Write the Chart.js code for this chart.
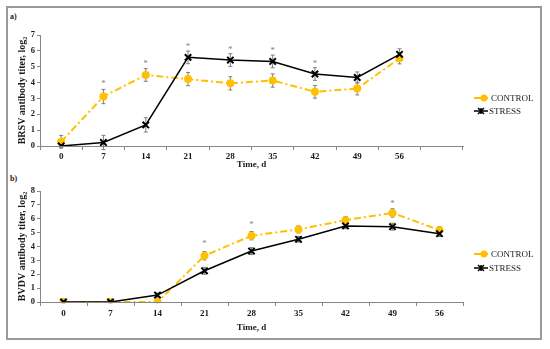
<!DOCTYPE html>
<html><head><meta charset="utf-8">
<script src="https://cdn.jsdelivr.net/npm/chart.js@4.4.0/dist/chart.umd.min.js"></script>
<style>
html,body{margin:0;padding:0;background:#fff;}
body{width:550px;height:349px;position:relative;overflow:hidden;font-family:"Liberation Serif",serif;}
#frame{position:absolute;left:6px;top:6px;width:532px;height:330px;border:2px solid #9a9a9a;}
.cv{position:absolute;left:0;}
.pl{position:absolute;font:bold 8px "Liberation Serif",serif;color:#222;}
</style></head>
<body>
<div id="frame"></div>
<div class="pl" style="left:10px;top:12px;">a)</div>
<div class="pl" style="left:10px;top:174px;">b)</div>
<div class="cv" style="top:0;width:550px;height:170px;"><canvas id="ca"></canvas></div>
<div class="cv" style="top:170px;width:550px;height:179px;"><canvas id="cb"></canvas></div>
<script>
// ---- data ----
const daysA = ['0','7','14','21','28','35','42','49','56',''];
const daysB = ['0','7','14','21','28','35','42','49','56'];
const seriesNames = ['CONTROL','STRESS'];

const brsvControl = [0.27, 3.12, 4.48, 4.22, 3.95, 4.13, 3.42, 3.62, 5.53];
const brsvStress  = [0.0, 0.22, 1.33, 5.59, 5.42, 5.33, 4.54, 4.32, 5.78];
const brsvControlErr = [0.4, 0.45, 0.4, 0.42, 0.42, 0.42, 0.4, 0.4, 0.35];
const brsvStressErr  = [0.1, 0.45, 0.45, 0.4, 0.4, 0.4, 0.4, 0.35, 0.35];
const brsvStar = [null, 4.05, 5.35, 6.37, 6.2, 6.12, 5.3, null, null];

const bvdvControl = [0, 0, 0, 3.33, 4.78, 5.23, 5.9, 6.42, 5.18];
const bvdvStress  = [0, 0, 0.5, 2.25, 3.67, 4.52, 5.48, 5.43, 4.92];
const bvdvControlErr = [0.05, 0.05, 0.05, 0.3, 0.3, 0.25, 0.25, 0.3, 0.25];
const bvdvStressErr  = [0.05, 0.05, 0.15, 0.25, 0.25, 0.2, 0.2, 0.25, 0.2];
const bvdvStar = [null, null, null, 4.34, 5.7, null, null, 7.2, null];

const GOLD = '#FFC000';
const GREY = '#868686';
const TXT = '#1a1a1a';

function errPlugin(ctrlErr, strErr, stars, legendY){
  return {
    id:'extras',
    beforeDatasetsDraw(chart){
      const ctx = chart.ctx, x = chart.scales.x, y = chart.scales.y;
      ctx.save();
      ctx.strokeStyle = '#7f7f7f'; ctx.lineWidth = 1;
      const errs = [ctrlErr, strErr];
      chart.data.datasets.forEach((ds, di) => {
        ds.data.forEach((v, i) => {
          const e = errs[di][i];
          const px = x.getPixelForValue(i);
          const t = y.getPixelForValue(v + e), b = y.getPixelForValue(v - e);
          ctx.beginPath();
          ctx.moveTo(px, t); ctx.lineTo(px, b);
          ctx.moveTo(px-2, t); ctx.lineTo(px+2, t);
          ctx.moveTo(px-2, b); ctx.lineTo(px+2, b);
          ctx.stroke();
        });
      });
      ctx.fillStyle = '#7f7f7f';
      ctx.font = '9px "Liberation Serif", serif';
      ctx.textAlign = 'center'; ctx.textBaseline = 'middle';
      stars.forEach((s, i) => {
        if (s === null) return;
        ctx.fillText('*', x.getPixelForValue(i), y.getPixelForValue(s) + 2);
      });
      ctx.restore();
    },
    afterDraw(chart){
      const ctx = chart.ctx;
      ctx.save();
      // CONTROL legend
      let ly = legendY[0];
      ctx.strokeStyle = GOLD; ctx.lineWidth = 2;
      ctx.beginPath(); ctx.moveTo(474, ly); ctx.lineTo(488, ly); ctx.stroke();
      ctx.fillStyle = GOLD;
      ctx.beginPath(); ctx.arc(484, ly, 3.5, 0, Math.PI*2); ctx.fill();
      ctx.fillStyle = TXT;
      ctx.font = '9px "Liberation Serif", serif';
      ctx.textAlign = 'left'; ctx.textBaseline = 'middle';
      ctx.fillText(seriesNames[0], 491, ly + 0.5);
      // STRESS legend
      ly = legendY[1];
      ctx.strokeStyle = '#000'; ctx.lineWidth = 1.5;
      ctx.beginPath(); ctx.moveTo(474, ly); ctx.lineTo(488, ly); ctx.stroke();
      ctx.lineWidth = 1.5;
      ctx.beginPath();
      ctx.moveTo(478, ly-3); ctx.lineTo(484, ly+3);
      ctx.moveTo(478, ly+3); ctx.lineTo(484, ly-3);
      ctx.moveTo(481, ly-3); ctx.lineTo(481, ly+3);
      ctx.stroke();
      ctx.fillStyle = TXT;
      ctx.fillText(seriesNames[1], 489, ly + 0.5);
      ctx.restore();
    }
  };
}

function makeChart(id, labels, ctrl, str, ymax, ytitle, pad, xh, tOff, plugin){
  return new Chart(document.getElementById(id), {
    type:'line',
    data:{
      labels: labels,
      datasets:[
        {label:seriesNames[0], data:ctrl, borderColor:GOLD, backgroundColor:GOLD, borderWidth:2,
         borderDash:[7,3,2,3], pointStyle:'circle', pointRadius:4, pointBackgroundColor:GOLD,
         pointBorderColor:GOLD, pointBorderWidth:0, tension:0, order:1},
        {label:seriesNames[1], data:str, borderColor:'#000', backgroundColor:'#000', borderWidth:1.5,
         pointStyle:'crossRot', pointRadius:4.5, pointBorderWidth:2, pointBorderColor:'#000', tension:0, order:0}
      ]
    },
    options:{
      responsive:true, maintainAspectRatio:false, animation:false,
      devicePixelRatio:1,
      layout:{padding:pad},
      plugins:{legend:{display:false}, tooltip:{enabled:false}},
      scales:{
        x:{
          type:'category', offset:true,
          grid:{display:true, offset:true, drawOnChartArea:false, drawTicks:true, tickLength:4, color:GREY},
          border:{display:true, color:GREY, width:1},
          ticks:{color:TXT, font:{family:'"Liberation Serif", serif', size:9, weight:'bold'}, padding:tOff, maxRotation:0, autoSkip:false},
          title:{display:true, text:'Time, d', color:TXT, font:{family:'"Liberation Serif", serif', size:9, weight:'bold'}, padding:{top:0,bottom:0}},
          afterFit(s){ s.height = xh; }
        },
        y:{
          min:0, max:ymax,
          grid:{display:true, drawOnChartArea:false, drawTicks:true, tickLength:3, color:GREY},
          border:{display:true, color:GREY, width:1},
          ticks:{stepSize:1, color:TXT, font:{family:'"Liberation Serif", serif', size:8.5, weight:'bold'}, padding:2},
          title:{display:true, text:ytitle, color:TXT, font:{family:'"Liberation Serif", serif', size:10, weight:'bold'}, padding:{top:16,bottom:0}},
          afterFit(s){ s.width = 40; }
        }
      }
    },
    plugins:[plugin]
  });
}

makeChart('ca', daysA, brsvControl, brsvStress, 7, 'BRSV antibody titer, log₂',
  {left:0, right:87, top:35, bottom:0}, 24, 1,
  errPlugin(brsvControlErr, brsvStressErr, brsvStar, [98, 111]));
makeChart('cb', daysB, bvdvControl, bvdvStress, 8, 'BVDV antibody titer, log₂',
  {left:0, right:87, top:21, bottom:16}, 31, 2,
  errPlugin(bvdvControlErr, bvdvStressErr, bvdvStar, [84, 98]));
</script>
</body></html>
